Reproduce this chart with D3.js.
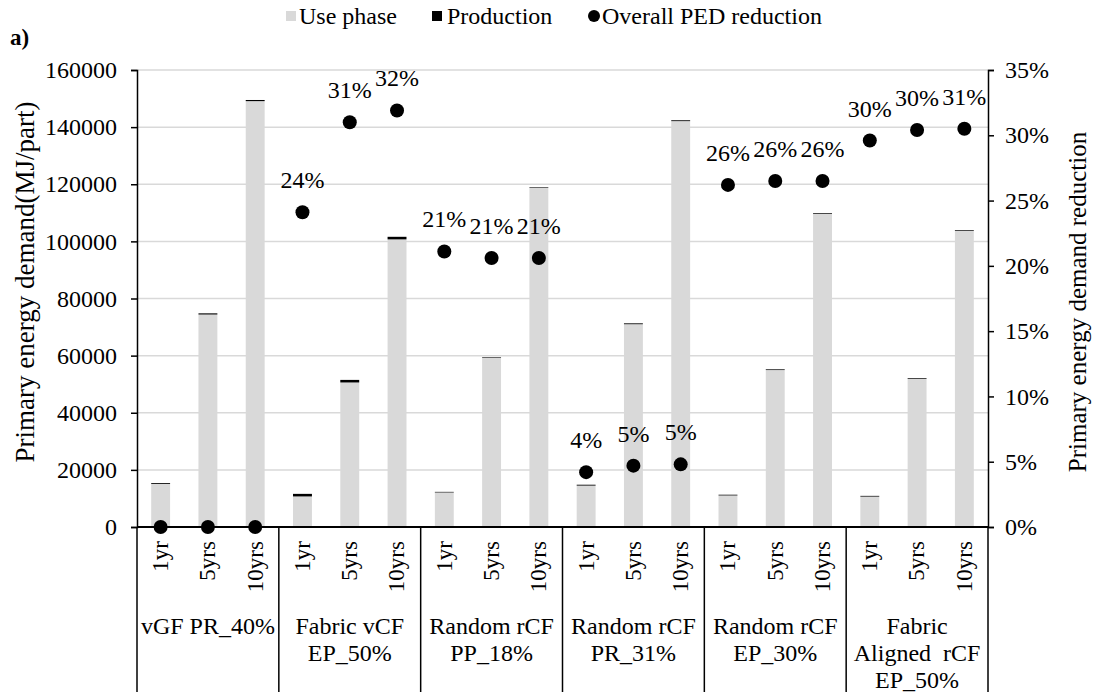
<!DOCTYPE html>
<html>
<head>
<meta charset="utf-8">
<script src="https://cdn.jsdelivr.net/npm/d3@7"></script>
<style>
  body { margin: 0; background: #fff; }
  svg, svg text { font-family: "Liberation Serif", "Times New Roman", serif !important; fill: #000; }
</style>
</head>
<body>
<div class="chart"></div>
<script>
// categories
const groups = ['vGF PR_40%', 'Fabric vCF EP_50%', 'Random rCF PP_18%', 'Random rCF PR_31%', 'Random rCF EP_30%', 'Fabric Aligned rCF EP_50%'];
const groupLines = [['vGF PR_40%'], ['Fabric vCF', 'EP_50%'], ['Random rCF', 'PP_18%'], ['Random rCF', 'PR_31%'], ['Random rCF', 'EP_30%'], ['Fabric', 'Aligned  rCF', 'EP_50%']];
const periods = ['1yr', '5yrs', '10yrs'];

// series values (MJ/part), one per group x period
const usePhase = [15100, 74400, 149100, 10700, 50600, 100700, 12100, 59300, 118800, 14500, 71000, 142100, 11050, 54950, 109650, 10650, 51850, 103650];
const production = [300, 400, 400, 900, 900, 900, 200, 200, 200, 300, 300, 300, 250, 250, 250, 250, 250, 250];
const pedReduction = [0, 0, 0, 0.241, 0.310, 0.319, 0.211, 0.206, 0.206, 0.042, 0.047, 0.048, 0.262, 0.265, 0.265, 0.296, 0.304, 0.305];
const pedLabels = ['', '', '', '24%', '31%', '32%', '21%', '21%', '21%', '4%', '5%', '5%', '26%', '26%', '26%', '30%', '30%', '31%'];

// tick labels
const leftTicks = [0, 20000, 40000, 60000, 80000, 100000, 120000, 140000, 160000];
const rightTicks = [0, 0.05, 0.10, 0.15, 0.20, 0.25, 0.30, 0.35];

const dataset = [];
groups.forEach((g, gi) => periods.forEach((p, pi) => {
    const i = gi * 3 + pi;
    dataset.push({key: g + '|' + p, group: g, period: p, use: usePhase[i], prod: production[i], ped: pedReduction[i], label: pedLabels[i]});
}));

const W = 1095, H = 692;
const plot = {left: 137, right: 988, top: 70, bottom: 527};
const fontSize = 24;
const serif = '"Liberation Serif", "Times New Roman", serif';

const svg = d3.select('.chart').append('svg')
              .attr('width', W).attr('height', H)
              .attr('font-family', serif);

// scales
const x = d3.scaleBand()
            .domain(dataset.map(d => d.key))
            .range([plot.left, plot.right])
            .paddingInner(0.6)
            .paddingOuter(0.3);
const xGroup = d3.scaleBand().domain(groups).range([plot.left, plot.right]);
const y = d3.scaleLinear().domain([0, 160000]).range([plot.bottom, plot.top]);
const y2 = d3.scaleLinear().domain([0, 0.35]).range([plot.bottom, plot.top]);

// gridlines
svg.append('g')
   .selectAll('line')
   .data(leftTicks.slice(1))
   .join('line')
   .attr('x1', plot.left).attr('x2', plot.right)
   .attr('y1', d => y(d)).attr('y2', d => y(d))
   .attr('stroke', '#d9d9d9').attr('stroke-width', 1.5);

// stacked bars
const bars = svg.append('g');
bars.selectAll('rect.use')
    .data(dataset)
    .join('rect')
    .attr('class', 'use')
    .attr('x', d => x(d.key))
    .attr('width', x.bandwidth())
    .attr('y', d => y(d.use))
    .attr('height', d => y(0) - y(d.use))
    .attr('fill', '#d9d9d9');
bars.selectAll('rect.prod')
    .data(dataset)
    .join('rect')
    .attr('class', 'prod')
    .attr('x', d => x(d.key))
    .attr('width', x.bandwidth())
    .attr('y', d => y(d.use + d.prod))
    .attr('height', d => y(d.use) - y(d.use + d.prod))
    .attr('fill', '#000');

// axes
const leftAxis = svg.append('g')
   .attr('transform', `translate(${plot.left},0)`)
   .call(d3.axisLeft(y).tickValues(leftTicks).tickFormat(d3.format('d')).tickSize(6).tickPadding(14));
const rightAxis = svg.append('g')
   .attr('transform', `translate(${plot.right},0)`)
   .call(d3.axisRight(y2).tickValues(rightTicks).tickFormat(d3.format('.0%')).tickSize(6).tickPadding(11));
[leftAxis, rightAxis].forEach(a => {
    a.attr('font-family', serif).attr('font-size', fontSize);
    a.select('.domain').attr('stroke', '#000').attr('stroke-width', 1.5);
    a.selectAll('.tick line').attr('stroke', '#000').attr('stroke-width', 1.5);
});

const bottomAxis = svg.append('g')
   .attr('transform', `translate(0,${plot.bottom})`)
   .call(d3.axisBottom(x).tickSize(0).tickFormat(k => k.split('|')[1]));
bottomAxis.attr('font-family', serif).attr('font-size', 23);
bottomAxis.select('.domain').attr('stroke', '#000').attr('stroke-width', 2).attr('d', `M${plot.left},0H${plot.right}`);
bottomAxis.selectAll('text')
   .attr('text-anchor', 'end')
   .attr('dy', '0.32em')
   .attr('y', 0)
   .attr('transform', 'translate(0,14) rotate(-90)');

// group separators and labels
const bounds = groups.map(g => xGroup(g)).concat([plot.right]);
svg.append('g')
   .selectAll('line')
   .data(bounds)
   .join('line')
   .attr('x1', d => d).attr('x2', d => d)
   .attr('y1', plot.bottom).attr('y2', H)
   .attr('stroke', '#000').attr('stroke-width', 1.5);

svg.append('g')
   .selectAll('text')
   .data(groups)
   .join('text')
   .attr('x', g => xGroup(g) + xGroup.bandwidth() / 2)
   .attr('y', 634)
   .attr('text-anchor', 'middle')
   .attr('font-size', fontSize)
   .each(function(g, i) {
       d3.select(this).selectAll('tspan')
         .data(groupLines[i])
         .join('tspan')
         .attr('x', xGroup(g) + xGroup.bandwidth() / 2)
         .attr('dy', (t, j) => j === 0 ? 0 : 27)
         .style('white-space', 'pre')
         .text(t => t);
   });

// PED reduction points
const pts = svg.append('g');
pts.selectAll('circle')
   .data(dataset)
   .join('circle')
   .attr('cx', d => x(d.key) + x.bandwidth() / 2)
   .attr('cy', d => y2(d.ped))
   .attr('r', 7)
   .attr('fill', '#000');
pts.selectAll('text')
   .data(dataset.filter(d => d.label))
   .join('text')
   .attr('x', d => x(d.key) + x.bandwidth() / 2)
   .attr('y', d => y2(d.ped) - 24)
   .attr('text-anchor', 'middle')
   .attr('font-size', fontSize)
   .text(d => d.label);

// axis titles
svg.append('text')
   .attr('transform', 'translate(25,282) rotate(-90)')
   .attr('text-anchor', 'middle')
   .attr('dominant-baseline', 'central')
   .attr('font-size', 27)
   .text('Primary energy demand(MJ/part)');
svg.append('text')
   .attr('transform', 'translate(1077,302) rotate(-90)')
   .attr('text-anchor', 'middle')
   .attr('dominant-baseline', 'central')
   .attr('font-size', 25)
   .text('Primary energy demand reduction');

// panel tag
svg.append('text')
   .attr('x', 10).attr('y', 45)
   .attr('font-size', 23)
   .attr('font-weight', 'bold')
   .text('a)');

// legend
const legend = svg.append('g').attr('transform', 'translate(0,16)').attr('font-size', 24);
legend.append('rect').attr('x', 286).attr('y', -5).attr('width', 10).attr('height', 10).attr('fill', '#d9d9d9');
legend.append('text').attr('x', 299).attr('y', 8).text('Use phase');
legend.append('rect').attr('x', 432).attr('y', -5).attr('width', 10).attr('height', 10).attr('fill', '#000');
legend.append('text').attr('x', 447).attr('y', 8).text('Production');
legend.append('circle').attr('cx', 594).attr('cy', 0).attr('r', 6).attr('fill', '#000');
legend.append('text').attr('x', 602).attr('y', 8).text('Overall PED reduction');
</script>
</body>
</html>
